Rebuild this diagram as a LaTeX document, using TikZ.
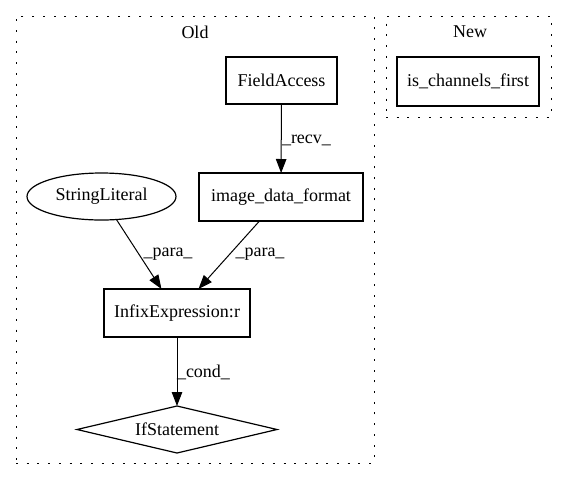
\documentclass[tikz,border=0pt]{standalone}
\usepackage{fontspec}
\setmainfont{Liberation Serif}
\usetikzlibrary{shapes.geometric,arrows.meta}
\tikzset{
  cluster/.style={draw, line width=1pt, dash pattern=on 2pt off 8.7pt, inner sep=0pt, outer sep=0pt},
  box/.style={draw, line width=1.2pt, rectangle, inner sep=0pt, outer sep=0pt},
  oval/.style={draw, line width=1.2pt, ellipse, inner sep=0pt, outer sep=0pt},
  dia/.style={draw, line width=1.2pt, diamond, inner sep=0pt, outer sep=0pt},
  edge/.style={line width=1pt, -{Triangle[length=14pt,width=10.5pt]}},
  lbl/.style={inner sep=0pt, outer sep=0pt},
  ttl/.style={inner sep=0pt, outer sep=0pt}
}
\begin{document}
\begin{tikzpicture}[x=1pt,y=-1pt,font=\fontsize{18}{21}\selectfont]
\useasboundingbox (0,0) rectangle (567,480);
% clusters
\node[cluster, minimum width=358pt, minimum height=447pt] (old) at (195,239.5) {};
\node[ttl] (oldt) at (195,32) {Old};
\node[cluster, minimum width=165pt, minimum height=101pt] (new) at (468.5,66.5) {};
\node[ttl] (newt) at (470,32) {New};
% nodes
\node[box, minimum width=142pt, minimum height=49pt] (icf) at (468,81.5) {is\_channels\_first};
\node[box, minimum width=111pt, minimum height=47pt] (fa) at (281.5,80.5) {FieldAccess};
\node[box, minimum width=164pt, minimum height=48pt] (idf) at (281,197) {image\_data\_format};
\node[oval, minimum width=149pt, minimum height=47pt] (sl) at (101.5,196.5) {StringLiteral};
\node[box, minimum width=146pt, minimum height=48pt] (ix) at (177,313) {InfixExpression:r};
\node[dia, minimum width=200pt, minimum height=47pt, aspect=4.25] (ifs) at (177,429.5) {IfStatement};
% edges
\draw[edge] (fa) -- (idf);
\draw[edge] (sl) -- (ix);
\draw[edge] (idf) -- (ix);
\draw[edge] (ix) -- (ifs);
% edge labels
\node[lbl, anchor=west] (lrecv) at (282,140) {\_recv\_};
\node[lbl] (lpara1) at (168,254) {\_para\_};
\node[lbl] (lpara2) at (260,254) {\_para\_};
\node[lbl, anchor=west] (lcond) at (177,372) {\_cond\_};
\end{tikzpicture}
\end{document}
